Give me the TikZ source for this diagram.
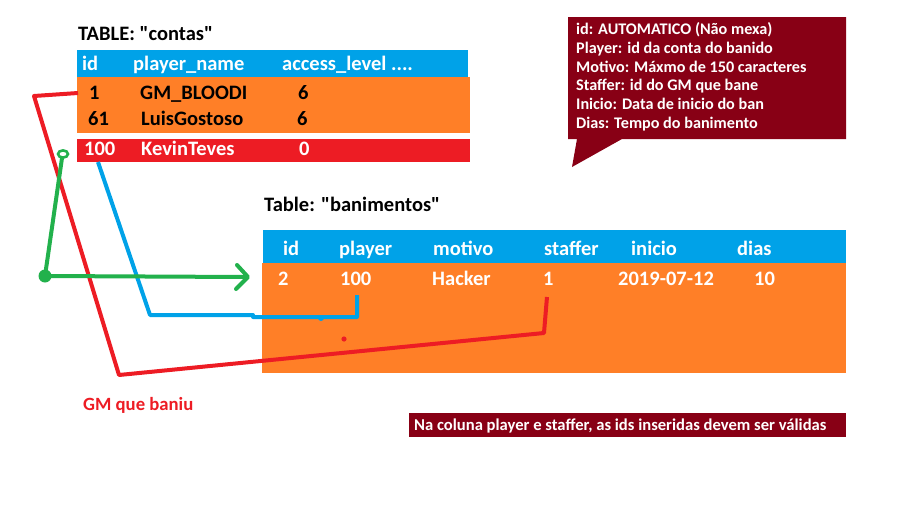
\documentclass[tikz,border=0pt]{standalone}
\usepackage{fontspec}
\setmainfont{Carlito}[Ligatures=TeXOff]
\definecolor{pblue}{HTML}{00A2E8}
\definecolor{porange}{HTML}{FF7F27}
\definecolor{pred}{HTML}{ED1C24}
\definecolor{pdark}{HTML}{880015}
\definecolor{pgreen}{HTML}{22B14C}
\tikzset{
  txt/.style={anchor=base west, inner sep=0pt, font=\bfseries\fontsize{20.5}{24}\selectfont},
  wtxt/.style={txt, text=white},
  ctxt/.style={anchor=base west, inner sep=0pt, text=white, font=\bfseries\fontsize{16.2}{19}\selectfont},
  link/.style={line width=4pt, line join=round},
}
\begin{document}
\begin{tikzpicture}[x=1pt,y=-1pt]
\useasboundingbox (0,0) rectangle (911,506);
% ---- table contas ----
\node[txt] (tcontas) at (78,40.5) {TABLE: "contas"};
\fill[pblue] (77,50) rectangle (468,77);
\fill[porange] (77,77) rectangle (470,133);
\fill[pred] (77,139) rectangle (470,162);
\node[wtxt] (chid) at (82,70) {id};
\node[wtxt] (chname) at (133,70) {player\_name};
\node[wtxt] (chacc) at (282,70) {access\_level ....};
\node[txt] (c1id) at (89,99.3) {1};
\node[txt] (c1name) at (140,99.3) {GM\_BLOODI};
\node[txt] (c1acc) at (298,99.3) {6};
\node[txt] (c2id) at (88,125.3) {61};
\node[txt] (c2name) at (141,125.3) {LuisGostoso};
\node[txt] (c2acc) at (297,125.3) {6};
\node[wtxt] (c3id) at (84,155.5) {100};
\node[wtxt] (c3name) at (141,155.5) {KevinTeves};
\node[wtxt] (c3acc) at (299,155.5) {0};
% ---- callout ----
\fill[pdark] (568,17) -- (846,17) -- (846,139) -- (622,139) -- (572,167) -- (577,139) -- (568,139) -- cycle;
\node[ctxt] (n1) at (576,34.5) {id: AUTOMATICO (Não mexa)};
\node[ctxt] (n2) at (576,53.3) {Player: id da conta do banido};
\node[ctxt] (n3) at (576,72.1) {Motivo: Máxmo de 150 caracteres};
\node[ctxt] (n4) at (576,90.9) {Staffer: id do GM que bane};
\node[ctxt] (n5) at (576,109.7) {Inicio: Data de inicio do ban};
\node[ctxt] (n6) at (576,128.5) {Dias: Tempo do banimento};
% ---- table banimentos ----
\node[txt] (tban) at (264,211.5) {Table: "banimentos"};
\fill[pblue] (263,230) rectangle (846,263);
\fill[porange] (262,263) rectangle (846,373);
\node[wtxt] (bhid) at (283,255) {id};
\node[wtxt] (bhplayer) at (339,255) {player};
\node[wtxt] (bhmotivo) at (433,255) {motivo};
\node[wtxt] (bhstaffer) at (544,255) {staffer};
\node[wtxt] (bhinicio) at (631,255) {inicio};
\node[wtxt] (bhdias) at (737,255) {dias};
\node[wtxt] (bid) at (278,285.7) {2};
\node[wtxt] (bplayer) at (340,285.7) {100};
\node[wtxt] (bmotivo) at (432,285.7) {Hacker};
\node[wtxt] (bstaffer) at (543,285.7) {1};
\node[wtxt] (binicio) at (618,285.7) {2019-07-12};
\node[wtxt] (bdias) at (754,285.7) {10};
% ---- connectors ----
% red: contas id 1 -> banimentos staffer 1
\coordinate (rs) at (78,93);
\coordinate (ra) at (34,96);
\coordinate (rb) at (119,375);
\coordinate (rc) at (544,333);
\coordinate (re) at (547,297);
\draw[link, pred] (rs) -- (ra) -- (rb) -- (rc) -- (re);
\fill[pred] (344,339) circle (2.6);
% blue: KevinTeves 100 -> banimentos player 100
\coordinate (bs) at (98,162);
\coordinate (ba) at (150,315);
\coordinate (bb) at (253,315);
\coordinate (bc) at (253,317);
\coordinate (bd) at (357,317);
\coordinate (be) at (357,295);
\draw[link, pblue] (bs) -- (ba) -- (bb) -- (bc) -- (bd) -- (be);
\fill[pblue] (321,318) circle (3);
% green: ring -> dot -> arrow into banimentos row
\coordinate (gr) at (63,154);
\coordinate (gd) at (45,276);
\coordinate (ge) at (246,277);
\draw[pgreen, line width=2.6pt] (gr) ellipse (5 and 3.6);
\draw[link, pgreen] (62,158) -- (gd);
\fill[pgreen] (gd) circle (6.5);
\draw[link, pgreen] (gd) -- (ge);
\draw[link, pgreen, line cap=round] (237,265) -- (248,277) -- (236,289);
% ---- labels ----
\node[anchor=base west, inner sep=0pt, text=pred, font=\bfseries\fontsize{18.7}{22}\selectfont] (gmlabel) at (83,410) {GM que baniu};
\fill[pdark] (409,413) rectangle (846,437);
\node[anchor=base west, inner sep=0pt, text=white, font=\bfseries\fontsize{16.6}{19}\selectfont] (note) at (414,430.5) {Na coluna player e staffer, as ids inseridas devem ser válidas};
\end{tikzpicture}
\end{document}
